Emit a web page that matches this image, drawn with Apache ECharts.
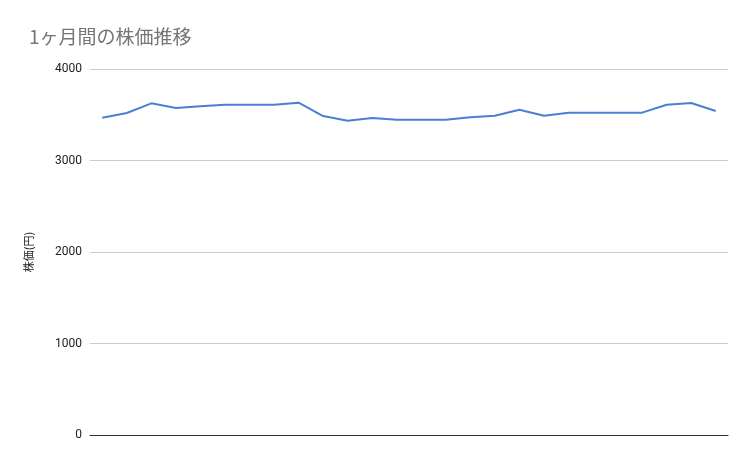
<!DOCTYPE html>
<html><head><meta charset="utf-8">
<script src="https://cdn.jsdelivr.net/npm/echarts@6/dist/echarts.min.js"></script>
<style>html,body{margin:0;padding:0;background:#fff}#c{width:753px;height:466px}</style>
</head><body><div id="c"></div>
<script>
const days = ["1","2","3","4","5","6","7","8","9","10","11","12","13","14","15","16","17","18","19","20","21","22","23","24","25","26"];
const prices = [3468,3519,3625,3574,3592,3610,3610,3610,3632,3486,3435,3464,3446,3446,3446,3472,3490,3555,3490,3523,3523,3523,3523,3610,3628,3541];
const yTicks = [0,1000,2000,3000,4000];
const chart = echarts.init(document.getElementById('c'));
chart.setOption({
  animation:false,
  title:{text:'1ヶ月間の株価推移',left:24,top:22,textStyle:{color:'#757575',fontSize:19,fontWeight:'normal',fontFamily:'Noto Sans CJK JP'}},
  grid:{left:90,right:25,top:69,bottom:31},
  xAxis:{type:'category',data:days,boundaryGap:true,axisLabel:{show:false},axisTick:{show:false},
    axisLine:{lineStyle:{color:'#333',width:1}}},
  yAxis:{type:'value',min:yTicks[0],max:yTicks[yTicks.length-1],interval:1000,
    name:'株価(円)',nameLocation:'middle',nameGap:56,nameRotate:90,
    nameTextStyle:{color:'#222',fontSize:11,fontFamily:'Noto Sans CJK JP'},
    axisLabel:{color:'#222',fontSize:12,margin:8,fontFamily:'Roboto',formatter:v=>String(v)},
    splitLine:{lineStyle:{color:'#ccc'}},axisLine:{show:false},axisTick:{show:false}},
  series:[{type:'line',data:prices,symbol:'none',lineStyle:{color:'#4a7fd6',width:2},itemStyle:{color:'#4a7fd6'}}]
});
</script></body></html>
